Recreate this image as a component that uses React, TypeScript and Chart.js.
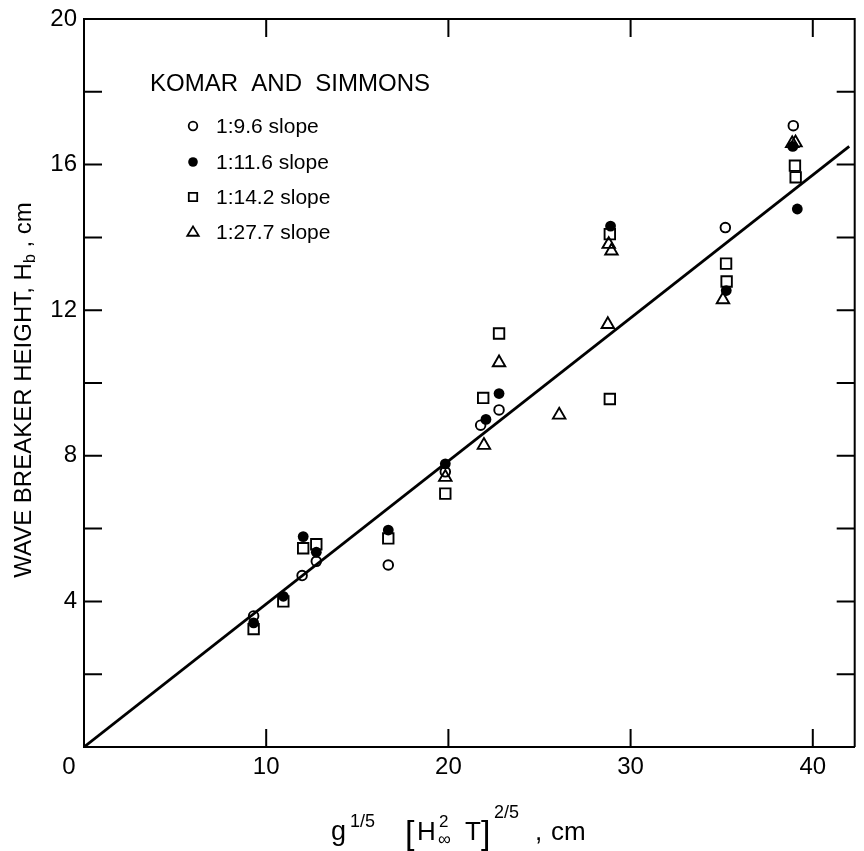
import React, { useEffect, useRef } from 'react';
import { Chart, registerables } from 'chart.js';

Chart.register(...registerables);

// ---- data ----
const slope96X = [9.31, 11.97, 12.75, 16.7, 19.83, 21.77, 22.78, 35.2, 38.93];
const slope96Y = [3.6, 4.71, 5.1, 5.0, 7.56, 8.84, 9.26, 14.27, 17.07];

const slope116X = [9.31, 10.94, 12.03, 12.75, 16.7, 19.83, 22.06, 22.78, 28.9, 35.25, 39.15, 38.9];
const slope116Y = [3.41, 4.14, 5.78, 5.35, 5.96, 7.78, 9.0, 9.71, 14.31, 12.54, 14.78, 16.5];

const slope142X = [9.31, 10.94, 12.03, 12.75, 16.7, 19.83, 21.91, 22.78, 28.86, 28.86, 35.24, 35.27, 39.02, 39.06];
const slope142Y = [3.24, 4.0, 5.46, 5.57, 5.73, 6.96, 9.59, 11.36, 14.09, 9.56, 13.28, 12.79, 15.97, 15.65];

const slope277X = [19.83, 21.95, 22.78, 26.08, 28.8, 28.95, 28.75, 35.07, 38.87, 39.05];
const slope277Y = [7.41, 8.29, 10.56, 9.12, 13.81, 13.63, 11.61, 12.29, 16.58, 16.6];

const fitX = [0, 42];
const fitY = [0, 16.5];

const xTickLabels = [0, 10, 20, 30, 40];
const yTickLabels = [4, 8, 12, 16, 20];
const yMinorTicks = [2, 4, 6, 8, 10, 12, 14, 16, 18];
const xMinorTicks = [10, 20, 30, 40];

const legendTitle = 'KOMAR  AND  SIMMONS';
const seriesLabels = ['1:9.6 slope', '1:11.6 slope', '1:14.2 slope', '1:27.7 slope'];

const FONT = "'Liberation Sans', Arial, sans-serif";

const toPts = (xs: number[], ys: number[]) => xs.map((x, i) => ({ x, y: ys[i] }));

function drawSymbol(ctx: CanvasRenderingContext2D, kind: string, x: number, y: number, r: number) {
  ctx.save();
  ctx.lineWidth = 1.8;
  ctx.strokeStyle = '#000';
  ctx.fillStyle = '#000';
  ctx.beginPath();
  if (kind === 'open') {
    ctx.arc(x, y, r, 0, Math.PI * 2);
    ctx.stroke();
  } else if (kind === 'filled') {
    ctx.arc(x, y, r, 0, Math.PI * 2);
    ctx.fill();
  } else if (kind === 'square') {
    ctx.rect(x - r, y - r, 2 * r, 2 * r);
    ctx.stroke();
  } else {
    const h = r * 1.8;
    ctx.moveTo(x, y - h * 0.6);
    ctx.lineTo(x + r * 1.1, y + h * 0.4);
    ctx.lineTo(x - r * 1.1, y + h * 0.4);
    ctx.closePath();
    ctx.stroke();
  }
  ctx.restore();
}

const framePlugin = {
  id: 'framePlugin',
  afterDraw(chart: any) {
    const ctx: CanvasRenderingContext2D = chart.ctx;
    const { left, right, top, bottom } = chart.chartArea;
    const xs = chart.scales.x;
    const ys = chart.scales.y;
    ctx.save();
    ctx.strokeStyle = '#000';
    ctx.lineWidth = 2;
    // top and right border
    ctx.beginPath();
    ctx.moveTo(left, top);
    ctx.lineTo(right, top);
    ctx.lineTo(right, bottom);
    ctx.stroke();
    // inward ticks
    const TL = 18;
    ctx.beginPath();
    yMinorTicks.forEach((v) => {
      const py = ys.getPixelForValue(v);
      ctx.moveTo(left, py);
      ctx.lineTo(left + TL, py);
      ctx.moveTo(right, py);
      ctx.lineTo(right - TL, py);
    });
    xMinorTicks.forEach((v) => {
      const px = xs.getPixelForValue(v);
      ctx.moveTo(px, bottom);
      ctx.lineTo(px, bottom - TL);
      ctx.moveTo(px, top);
      ctx.lineTo(px, top + TL);
    });
    ctx.stroke();

    // origin label, set down-left of the corner as in the reference
    ctx.fillStyle = '#000';
    ctx.font = `24px ${FONT}`;
    ctx.textAlign = 'center';
    ctx.textBaseline = 'middle';
    ctx.fillText(String(xTickLabels[0]), xs.getPixelForValue(xTickLabels[0]) - 15, bottom + 20);

    // legend
    ctx.textBaseline = 'middle';
    ctx.textAlign = 'left';
    ctx.font = `24px ${FONT}`;
    ctx.fillText(legendTitle, 150, 84);
    const kinds = ['open', 'filled', 'square', 'triangle'];
    const rowsY = [126, 162, 197, 232];
    ctx.font = `21px ${FONT}`;
    kinds.forEach((k, i) => {
      drawSymbol(ctx, k, 193, rowsY[i], k === 'square' ? 4.2 : k === 'triangle' ? 5.2 : k === 'filled' ? 4.8 : 4.3);
      ctx.fillStyle = '#000';
      ctx.fillText(seriesLabels[i], 216, rowsY[i] + 1);
    });

    // y axis title (rotated)
    ctx.save();
    ctx.translate(24, 390);
    ctx.rotate(-Math.PI / 2);
    ctx.textBaseline = 'middle';
    ctx.textAlign = 'left';
    const p1 = 'WAVE BREAKER HEIGHT, H';
    const p2 = 'b';
    const p3 = ' , cm';
    ctx.font = `24px ${FONT}`;
    const w1 = ctx.measureText(p1).width;
    const w3 = ctx.measureText(p3).width;
    ctx.font = `16px ${FONT}`;
    const w2 = ctx.measureText(p2).width;
    let cx = -(w1 + w2 + w3) / 2;
    ctx.font = `24px ${FONT}`;
    ctx.fillText(p1, cx, 0);
    cx += w1;
    ctx.font = `16px ${FONT}`;
    ctx.fillText(p2, cx, 7);
    cx += w2;
    ctx.font = `24px ${FONT}`;
    ctx.fillText(p3, cx, 0);
    ctx.restore();

    // x axis title with sub/superscripts (offsets from the start of the title)
    const yb = 840;
    const x0 = 331;
    const pieces = [
      { t: 'g', size: 27, dx: 0, dy: 0 },
      { t: '1/5', size: 18, dx: 19, dy: -13 },
      { t: '[', size: 34, dx: 74, dy: 4 },
      { t: 'H', size: 26, dx: 86, dy: 0 },
      { t: '2', size: 17, dx: 108, dy: -13 },
      { t: '\u221E', size: 18, dx: 107, dy: 5 },
      { t: 'T', size: 26, dx: 134, dy: 0 },
      { t: ']', size: 34, dx: 150, dy: 4 },
      { t: '2/5', size: 18, dx: 163, dy: -22 },
      { t: ',', size: 26, dx: 204, dy: 0 },
      { t: 'cm', size: 26, dx: 220, dy: 0 },
    ];
    ctx.textBaseline = 'alphabetic';
    ctx.textAlign = 'left';
    pieces.forEach((p) => {
      ctx.font = `${p.size}px ${FONT}`;
      ctx.fillText(p.t, x0 + p.dx, yb + p.dy);
    });

    ctx.restore();
  },
};

export default function App() {
  const canvasRef = useRef<HTMLCanvasElement | null>(null);

  useEffect(() => {
    if (!canvasRef.current) return;
    const openStyle = {
      pointBackgroundColor: 'rgba(0,0,0,0)',
      pointBorderColor: '#000',
      pointBorderWidth: 1.9,
      showLine: false,
    };
    const chart = new Chart(canvasRef.current, {
      type: 'scatter',
      data: {
        datasets: [
          {
            type: 'line',
            label: 'fit',
            data: toPts(fitX, fitY),
            borderColor: '#000',
            borderWidth: 2.8,
            pointRadius: 0,
            fill: false,
            order: 5,
          } as any,
          {
            label: seriesLabels[0],
            data: toPts(slope96X, slope96Y),
            pointStyle: 'circle',
            pointRadius: 4.8,
            ...openStyle,
          },
          {
            label: seriesLabels[1],
            data: toPts(slope116X, slope116Y),
            pointStyle: 'circle',
            pointRadius: 5.4,
            pointBackgroundColor: '#000',
            pointBorderColor: '#000',
            pointBorderWidth: 0,
            showLine: false,
          },
          {
            label: seriesLabels[2],
            data: toPts(slope142X, slope142Y),
            pointStyle: 'rect',
            pointRadius: 7.4,
            ...openStyle,
          },
          {
            label: seriesLabels[3],
            data: toPts(slope277X, slope277Y),
            pointStyle: 'triangle',
            pointRadius: 7.2,
            ...openStyle,
          },
        ],
      },
      options: {
        animation: false,
        responsive: false,
        devicePixelRatio: 1,
        layout: { padding: { left: 0, top: 13, right: 2, bottom: 0 } },
        plugins: {
          legend: { display: false },
          tooltip: { enabled: false },
          title: { display: false },
        },
        scales: {
          x: {
            type: 'linear',
            min: 0,
            max: 42.3,
            grid: { display: false, drawTicks: false },
            border: { display: true, color: '#000', width: 2 },
            afterBuildTicks: (scale: any) => {
              scale.ticks = xTickLabels.map((v) => ({ value: v }));
            },
            ticks: {
              padding: 8,
              color: '#000',
              font: { family: FONT, size: 24, lineHeight: 1 },
              maxRotation: 0,
              autoSkip: false,
              callback: (v: any) => (Number(v) === 0 ? '' : String(v)),
            },
            afterFit: (scale: any) => {
              scale.height = 104;
            },
          },
          y: {
            type: 'linear',
            min: 0,
            max: 20,
            grid: { display: false, drawTicks: false },
            border: { display: true, color: '#000', width: 2 },
            afterBuildTicks: (scale: any) => {
              scale.ticks = yTickLabels.map((v) => ({ value: v }));
            },
            ticks: {
              padding: 7,
              color: '#000',
              font: { family: FONT, size: 24, lineHeight: 1 },
              autoSkip: false,
              callback: (v: any) => String(v),
            },
            afterFit: (scale: any) => {
              scale.width = 84;
            },
          },
        },
      },
      plugins: [framePlugin],
    } as any);
    return () => chart.destroy();
  }, []);

  return (
    <div style={{ position: 'absolute', left: 0, top: 0, width: 864, height: 851, background: '#fff' }}>
      <canvas ref={canvasRef} width={864} height={851} />
    </div>
  );
}
